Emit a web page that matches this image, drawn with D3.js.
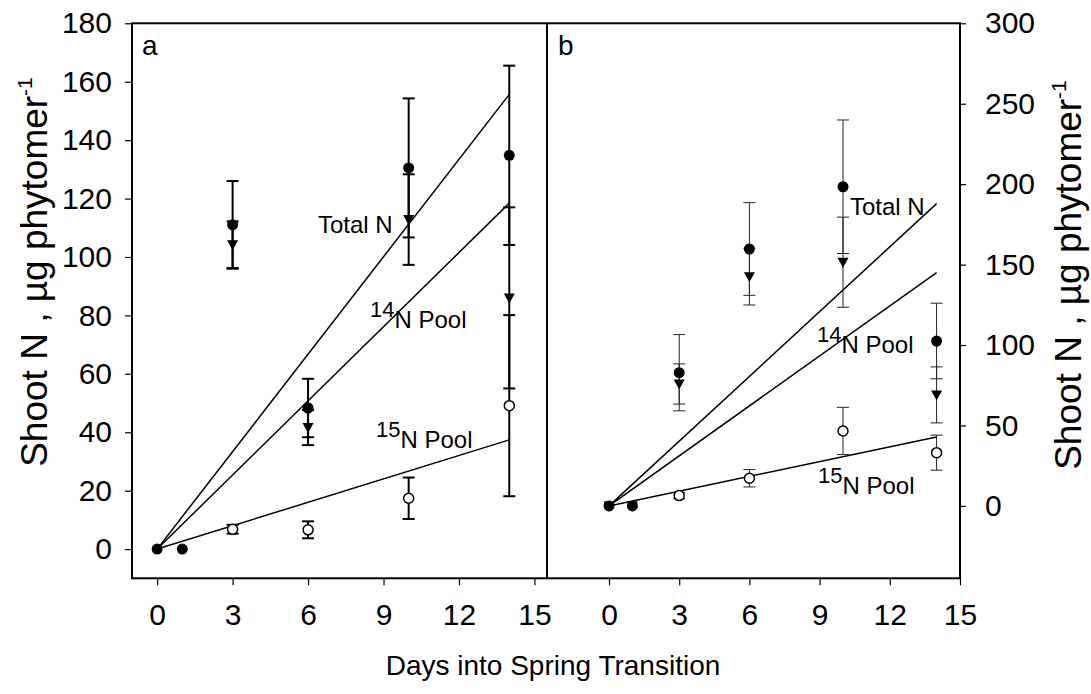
<!DOCTYPE html>
<html>
<head>
<meta charset="utf-8">
<script src="https://cdn.jsdelivr.net/npm/d3@7"></script>
<style>
  html, body { margin: 0; padding: 0; background: #fff; }
  svg { display: block; }
  text { font-family: "Liberation Sans", Arial, sans-serif; fill: #000; }
</style>
</head>
<body>
<svg id="chart" width="1091" height="694"></svg>
<script>
// Sampling days
const days = [0, 1, 3, 6, 10, 14];

// Panel a: shoot N (µg per phytomer), mean and error
const totalA    = [0, 0, 111.0, 48.3, 130.5, 134.8];
const totalAErr = [0, 0, 15.0, 10.0, 23.8, 30.7];
const n14A      = [null, null, 104.2, 41.6, 112.8, 86.0];
const n14AErr   = [0, 0, 8.0, 6.0, 15.5, 31.0];
const n15A      = [null, null, 6.8, 6.6, 17.4, 49.1];
const n15AErr   = [0, 0, 1.5, 2.9, 7.1, 31.0];

// Panel b
const totalB    = [0, 0, 82.8, 159.7, 198.4, 102.5];
const totalBErr = [0, 0, 23.7, 28.8, 41.5, 23.5];
const n14B      = [0, 0, 75.8, 142.5, 151.5, 69.0];
const n14BErr   = [0, 0, 12.5, 17.6, 28.0, 17.4];
const n15B      = [null, null, 6.4, 17.2, 46.6, 33.1];
const n15BErr   = [0, 0, 2.0, 5.4, 14.7, 10.9];

// Regression slopes through the origin (Total N, 14N, 15N), fitted over days 0–14
const fitSlopeA = [11.12, 8.46, 2.67];
const fitSlopeB = [13.42, 10.36, 3.06];
const fitRange  = [0, 14];

// Tick values
const xTicks  = [0, 3, 6, 9, 12, 15];
const yTicksA = [0, 20, 40, 60, 80, 100, 120, 140, 160, 180];
const yTicksB = [0, 50, 100, 150, 200, 250, 300];

const svg = d3.select("#chart");

const plotTop = 23.3, plotBottom = 578.3;
const xA = d3.scaleLinear().domain([-1, 15.5]).range([132, 547]);
const xB = d3.scaleLinear().domain([-2.65, 15]).range([547, 960]);
const yA = d3.scaleLinear().domain([-10, 180]).range([plotBottom, plotTop]);
const yB = d3.scaleLinear().domain([-45, 300]).range([plotBottom, plotTop]);

const tickFont = 30;

// Frame
svg.append("rect")
  .attr("x", 132).attr("y", plotTop)
  .attr("width", 960 - 132).attr("height", plotBottom - plotTop)
  .attr("fill", "none").attr("stroke", "#000").attr("stroke-width", 2);
svg.append("line")
  .attr("x1", 547).attr("x2", 547).attr("y1", plotTop).attr("y2", plotBottom)
  .attr("stroke", "#000").attr("stroke-width", 2);

function styleTicks(g) {
  g.select(".domain").remove();
  g.selectAll(".tick line").attr("stroke", "#000").attr("stroke-width", 1.2);
  g.selectAll(".tick text").attr("font-size", tickFont)
    .style("font-family", "Liberation Sans, Arial, sans-serif").attr("fill", "#000");
}

// X axes
function xAxis(x) {
  const g = svg.append("g").attr("transform", `translate(0,${plotBottom})`);
  g.call(d3.axisBottom(x).tickValues(xTicks).tickSize(7).tickPadding(18)
    .tickFormat(d3.format("d")));
  styleTicks(g);
}
xAxis(xA);
xAxis(xB);

// Left y axis (panel a)
{
  const g = svg.append("g").attr("transform", "translate(132,0)");
  g.call(d3.axisLeft(yA).tickValues(yTicksA).tickSize(7).tickPadding(13)
    .tickFormat(d3.format("d")));
  styleTicks(g);
}
// Right y axis (panel b)
{
  const g = svg.append("g").attr("transform", "translate(960,0)");
  g.call(d3.axisRight(yB).tickValues(yTicksB).tickSize(6).tickPadding(19)
    .tickFormat(d3.format("d")));
  styleTicks(g);
}

// Axis titles
svg.append("text")
  .attr("x", 553).attr("y", 675)
  .attr("text-anchor", "middle").attr("font-size", 28)
  .text("Days into Spring Transition");

function yTitle(cx, cy) {
  const t = svg.append("text")
    .attr("transform", `translate(${cx},${cy}) rotate(-90)`)
    .attr("text-anchor", "middle").attr("font-size", 37);
  t.append("tspan").text("Shoot N , \u00b5g phytomer");
  t.append("tspan").attr("dy", -15).attr("font-size", 21).text("-1");
}
yTitle(47, 272);
yTitle(1081, 275);

// Panel letters
svg.append("text").attr("x", 142).attr("y", 55).attr("font-size", 28).text("a");
svg.append("text").attr("x", 558).attr("y", 55).attr("font-size", 28).text("b");

// Panel drawing
function drawPanel(x, y, series, slopes, errStyle) {
  const g = svg.append("g");

  // regression lines
  slopes.forEach(s => {
    g.append("line")
      .attr("x1", x(fitRange[0])).attr("y1", y(s * fitRange[0]))
      .attr("x2", x(fitRange[1])).attr("y2", y(s * fitRange[1]))
      .attr("stroke", "#000").attr("stroke-width", 1.5);
  });

  // error bars
  series.forEach(sr => {
    days.forEach((d, i) => {
      const v = sr.vals[i], e = sr.err[i];
      if (v == null || !e) return;
      const cx = x(d);
      g.append("line").attr("x1", cx).attr("x2", cx)
        .attr("y1", y(v - e)).attr("y2", y(v + e))
        .attr("stroke", errStyle.color).attr("stroke-width", errStyle.width);
      [v - e, v + e].forEach(w => {
        g.append("line").attr("x1", cx - 6).attr("x2", cx + 6)
          .attr("y1", y(w)).attr("y2", y(w))
          .attr("stroke", errStyle.color).attr("stroke-width", errStyle.width);
      });
    });
  });

  // markers
  series.forEach(sr => {
    days.forEach((d, i) => {
      const v = sr.vals[i];
      if (v == null) return;
      const cx = x(d), cy = y(v);
      if (sr.shape === "circle") {
        g.append("circle").attr("cx", cx).attr("cy", cy).attr("r", 5.5)
          .attr("fill", "#000");
      } else if (sr.shape === "open") {
        g.append("circle").attr("cx", cx).attr("cy", cy).attr("r", 5)
          .attr("fill", "#fff").attr("stroke", "#000").attr("stroke-width", 1.5);
      } else {
        g.append("path")
          .attr("d", `M${cx - 5.5},${cy - 4.5}L${cx + 5.5},${cy - 4.5}L${cx},${cy + 5.5}Z`)
          .attr("fill", "#000");
      }
    });
  });
}

drawPanel(xA, yA, [
  { vals: n15A, err: n15AErr, shape: "open" },
  { vals: totalA, err: totalAErr, shape: "circle" },
  { vals: n14A, err: n14AErr, shape: "tri" }
], fitSlopeA, { color: "#000", width: 2 });

drawPanel(xB, yB, [
  { vals: n15B, err: n15BErr, shape: "open" },
  { vals: totalB, err: totalBErr, shape: "circle" },
  { vals: n14B, err: n14BErr, shape: "tri" }
], fitSlopeB, { color: "#222", width: 1 });

// Series labels
function label(xp, yp, text) {
  svg.append("text").attr("x", xp).attr("y", yp).attr("font-size", 24).text(text);
}
function poolLabel(xp, yp, iso) {
  const t = svg.append("text").attr("x", xp).attr("y", yp).attr("font-size", 24);
  t.append("tspan").attr("font-size", 22).attr("dy", -11).text(iso);
  t.append("tspan").attr("dy", 11).text("N Pool");
}
label(318, 233, "Total N");
poolLabel(370, 328, "14");
poolLabel(376, 448, "15");
label(850, 215, "Total N");
poolLabel(817, 353, "14");
poolLabel(818, 494, "15");
</script>
</body>
</html>
